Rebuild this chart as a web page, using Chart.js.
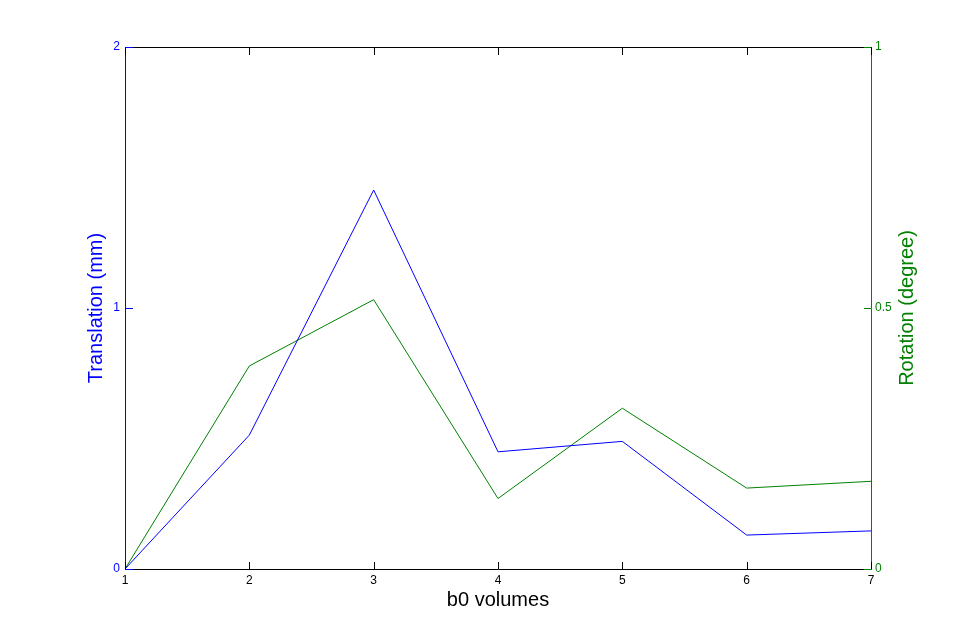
<!DOCTYPE html>
<html>
<head>
<meta charset="utf-8">
<script src="https://cdn.jsdelivr.net/npm/chart.js@4/dist/chart.umd.min.js"></script>
<style>
  html, body { margin: 0; padding: 0; background: #fff; }
  #wrap { width: 964px; height: 640px; }
</style>
</head>
<body>
<div id="wrap"><canvas id="motion"></canvas></div>
<script>
// b0 volume index
const volumes = ['1', '2', '3', '4', '5', '6', '7'];
// translation in mm (left axis)
const translation = [0, 0.513, 1.452, 0.449, 0.489, 0.130, 0.146];
// rotation in degree (right axis)
const rotation = [0, 0.389, 0.516, 0.135, 0.308, 0.155, 0.168];
const leftTicks = [0, 1, 2];
const rightTicks = [0, 0.5, 1];

const BLUE = '#0000ff';
const GREEN = '#008000';
const FONT = 'Liberation Sans, Arial, Helvetica, sans-serif';

// matlab style inward ticks, top box line and the right label (reads bottom to top)
const axesDecor = {
    id: 'axesDecor',
    afterDraw(chart) {
        const ctx = chart.ctx;
        const area = chart.chartArea;
        const x = chart.scales.x, yl = chart.scales.y, yr = chart.scales.y1;
        ctx.save();
        ctx.lineWidth = 1;

        ctx.strokeStyle = '#000';
        ctx.beginPath();
        ctx.moveTo(area.left, area.top + 0.5);
        ctx.lineTo(area.right, area.top + 0.5);
        x.ticks.forEach((t, i) => {
            const px = Math.round(x.getPixelForTick(i)) + 0.5;
            ctx.moveTo(px, area.bottom);
            ctx.lineTo(px, area.bottom - 7);
            ctx.moveTo(px, area.top);
            ctx.lineTo(px, area.top + 8);
        });
        ctx.stroke();

        ctx.strokeStyle = BLUE;
        ctx.beginPath();
        leftTicks.forEach(v => {
            const py = Math.round(yl.getPixelForValue(v)) + 0.5;
            ctx.moveTo(area.left, py);
            ctx.lineTo(area.left + 8, py);
        });
        ctx.stroke();

        ctx.strokeStyle = GREEN;
        ctx.beginPath();
        rightTicks.forEach(v => {
            const py = Math.round(yr.getPixelForValue(v)) + 0.5;
            ctx.moveTo(area.right, py);
            ctx.lineTo(area.right - 7, py);
        });
        ctx.stroke();

        ctx.fillStyle = GREEN;
        ctx.font = '20px ' + FONT;
        ctx.textAlign = 'center';
        ctx.textBaseline = 'middle';
        ctx.translate(907, (area.top + area.bottom) / 2);
        ctx.rotate(-Math.PI / 2);
        ctx.fillText('Rotation (degree)', 0, 0);
        ctx.restore();
    }
};

new Chart(document.getElementById('motion'), {
    type: 'line',
    data: {
        labels: volumes,
        datasets: [
            {
                label: 'Translation',
                data: translation,
                yAxisID: 'y',
                borderColor: BLUE,
                backgroundColor: BLUE,
                borderWidth: 1,
                pointRadius: 0,
                tension: 0
            },
            {
                label: 'Rotation',
                data: rotation,
                yAxisID: 'y1',
                borderColor: GREEN,
                backgroundColor: GREEN,
                borderWidth: 1,
                pointRadius: 0,
                tension: 0
            }
        ]
    },
    options: {
        responsive: true,
        maintainAspectRatio: false,
        animation: false,
        layout: { padding: { top: 47, left: 0, right: 0, bottom: 0 } },
        plugins: {
            legend: { display: false },
            tooltip: { enabled: false }
        },
        scales: {
            x: {
                type: 'category',
                offset: false,
                grid: { display: false, drawTicks: false },
                border: { display: true, color: '#000', width: 1 },
                ticks: {
                    color: '#000',
                    font: { family: FONT, size: 12 },
                    padding: 4,
                    maxRotation: 0,
                    autoSkip: false
                },
                title: {
                    display: true,
                    text: 'b0 volumes',
                    color: '#000',
                    font: { family: FONT, size: 20 },
                    padding: { top: 0, bottom: 28 }
                },
                afterFit: function(scale) { scale.height = 71; }
            },
            y: {
                position: 'left',
                min: 0,
                max: 2,
                grid: { display: false, drawTicks: false },
                border: { display: true, color: BLUE, width: 1 },
                ticks: {
                    stepSize: 1,
                    color: BLUE,
                    font: { family: FONT, size: 12 },
                    padding: 5
                },
                title: {
                    display: true,
                    text: 'Translation (mm)',
                    color: BLUE,
                    font: { family: FONT, size: 20 },
                    padding: { top: 84, bottom: 0 }
                },
                afterFit: function(scale) { scale.width = 125; }
            },
            y1: {
                position: 'right',
                min: 0,
                max: 1,
                grid: { display: false, drawTicks: false },
                border: { display: true, color: GREEN, width: 1 },
                ticks: {
                    stepSize: 0.5,
                    color: GREEN,
                    font: { family: FONT, size: 12 },
                    padding: 4,
                    callback: function(value) { return String(value); }
                },
                afterFit: function(scale) { scale.width = 93; }
            }
        }
    },
    plugins: [axesDecor]
});
</script>
</body>
</html>
